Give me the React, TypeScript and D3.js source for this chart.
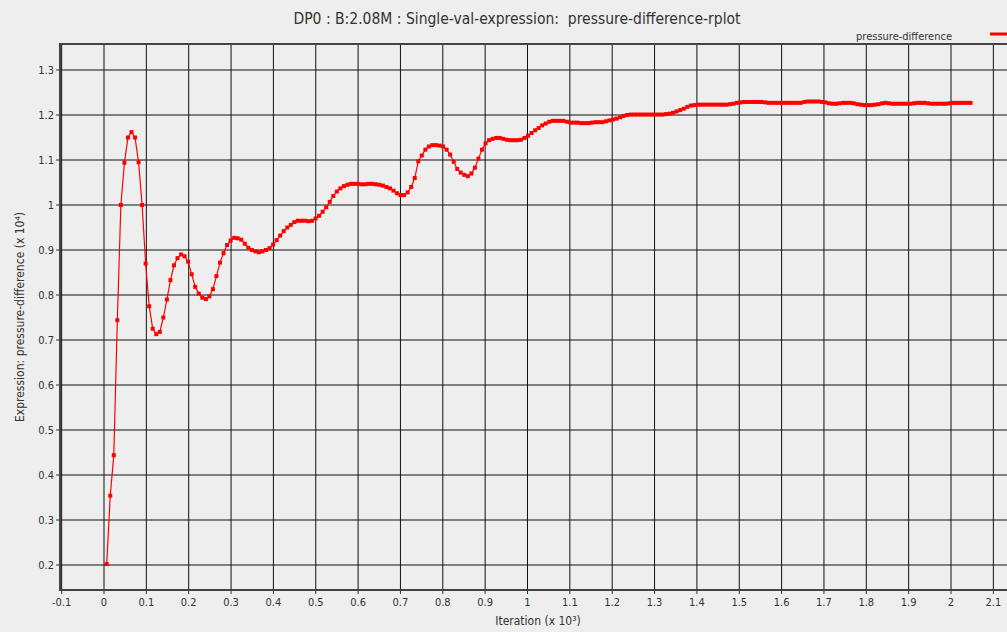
import React, { useEffect, useRef } from "react";
import * as d3 from "d3";

const title = "DP0 : B:2.08M : Single-val-expression:  pressure-difference-rplot";
const seriesName = "pressure-difference";
const xLabel = "Iteration (x 10³)";
const yLabel = "Expression: pressure-difference (x 10⁴)";

// iterations (x 10^3) of the first sample and spacing between samples
const firstIter = 0.0064;
const iterStep = 0.00836;

// pressure-difference (x 10^4), one value per sample
const pressureDiff = [
  0.202, 0.354, 0.444, 0.744, 1.0, 1.094, 1.15, 1.162, 1.15, 1.095,
  1.0, 0.87, 0.775, 0.725, 0.713, 0.718, 0.75, 0.79, 0.833, 0.866,
  0.882, 0.89, 0.886, 0.874, 0.846, 0.818, 0.803, 0.794, 0.791, 0.797,
  0.813, 0.842, 0.872, 0.893, 0.911, 0.921, 0.927, 0.926, 0.923, 0.914,
  0.905, 0.9, 0.897, 0.895, 0.897, 0.9, 0.904, 0.912, 0.922, 0.932,
  0.942, 0.95, 0.956, 0.962, 0.965, 0.965, 0.965, 0.964, 0.965, 0.97,
  0.976, 0.985, 0.995, 1.007, 1.02, 1.03, 1.037, 1.042, 1.045, 1.047,
  1.047, 1.047, 1.046, 1.046, 1.047, 1.047, 1.046, 1.045, 1.043, 1.04,
  1.037, 1.032, 1.026, 1.022, 1.022, 1.028, 1.04, 1.06, 1.097, 1.11,
  1.123, 1.13, 1.133, 1.133, 1.132, 1.13, 1.123, 1.112, 1.096, 1.08,
  1.072, 1.067, 1.064, 1.07, 1.083, 1.103, 1.123, 1.137, 1.144, 1.147,
  1.149, 1.149, 1.147, 1.145, 1.144, 1.144, 1.144, 1.145, 1.149, 1.154,
  1.16, 1.166, 1.171, 1.177, 1.181, 1.185, 1.187, 1.187, 1.187, 1.187,
  1.185, 1.183, 1.183, 1.183, 1.182, 1.182, 1.182, 1.183, 1.184, 1.184,
  1.184, 1.186, 1.188, 1.19, 1.192, 1.195, 1.198, 1.2, 1.201, 1.201,
  1.201, 1.201, 1.201, 1.201, 1.201, 1.201, 1.201, 1.201, 1.202, 1.203,
  1.205, 1.208, 1.211, 1.214, 1.218, 1.221, 1.222, 1.223, 1.223, 1.223,
  1.223, 1.223, 1.223, 1.223, 1.223, 1.223, 1.224, 1.225, 1.227, 1.228,
  1.229, 1.229, 1.229, 1.229, 1.229, 1.229, 1.228, 1.227, 1.227, 1.227,
  1.227, 1.227, 1.227, 1.227, 1.227, 1.227, 1.227, 1.229, 1.23, 1.23,
  1.23, 1.23, 1.229, 1.228, 1.226, 1.225, 1.225, 1.226, 1.227, 1.227,
  1.227, 1.226, 1.224, 1.223, 1.222, 1.222, 1.222, 1.223, 1.224, 1.226,
  1.227, 1.226, 1.225, 1.225, 1.225, 1.225, 1.225, 1.225, 1.226, 1.227,
  1.227, 1.227, 1.226, 1.225, 1.225, 1.225, 1.225, 1.225, 1.226, 1.227,
  1.227, 1.227, 1.227, 1.227, 1.227,
];

const xTicks = [-0.1, 0, 0.1, 0.2, 0.3, 0.4, 0.5, 0.6, 0.7, 0.8, 0.9, 1, 1.1, 1.2, 1.3, 1.4, 1.5, 1.6, 1.7, 1.8, 1.9, 2, 2.1];
const yTicks = [0.2, 0.3, 0.4, 0.5, 0.6, 0.7, 0.8, 0.9, 1, 1.1, 1.2, 1.3];

const font = "'DejaVu Sans Condensed', 'DejaVu Sans', sans-serif";

const App = () => {
  const ref = useRef(null);

  useEffect(() => {
    const width = 1007;
    const height = 632;
    const plot = { left: 60, top: 44, right: 1015, bottom: 590 };

    const x = d3.scaleLinear().domain([0, 2]).range([104, 951]);
    const y = d3.scaleLinear().domain([0.2, 1.3]).range([565, 70]);

    const points = pressureDiff.map((v, i) => ({ it: firstIter + i * iterStep, v }));

    const svg = d3.select(ref.current).attr("width", width).attr("height", height);
    svg.selectAll("*").remove();

    svg.append("rect").attr("width", width).attr("height", height).attr("fill", "#eeeeee");

    svg.append("text")
      .attr("x", 517).attr("y", 24)
      .attr("text-anchor", "middle")
      .attr("font-family", font).attr("font-size", 15.5)
      .attr("fill", "#333")
      .style("white-space", "pre")
      .text(title);

    // legend
    svg.append("text")
      .attr("x", 952).attr("y", 40)
      .attr("text-anchor", "end")
      .attr("font-family", font).attr("font-size", 11)
      .attr("fill", "#333")
      .text(seriesName);
    svg.append("line")
      .attr("x1", 990).attr("x2", 1010).attr("y1", 34).attr("y2", 34)
      .attr("stroke", "red").attr("stroke-width", 3);

    const g = svg.append("g");

    // grid
    g.selectAll("line.vgrid")
      .data(xTicks)
      .join("line")
      .attr("class", "vgrid")
      .attr("x1", (d) => x(d)).attr("x2", (d) => x(d))
      .attr("y1", plot.top).attr("y2", plot.bottom)
      .attr("stroke", "#111").attr("stroke-width", 1);
    g.selectAll("line.hgrid")
      .data(yTicks)
      .join("line")
      .attr("class", "hgrid")
      .attr("x1", plot.left).attr("x2", plot.right)
      .attr("y1", (d) => y(d)).attr("y2", (d) => y(d))
      .attr("stroke", "#111").attr("stroke-width", 1);

    // frame
    g.append("rect")
      .attr("x", plot.left).attr("y", plot.top)
      .attr("width", plot.right - plot.left).attr("height", plot.bottom - plot.top)
      .attr("fill", "none").attr("stroke", "#444").attr("stroke-width", 2);

    // tick marks + labels (plain hyphen for negatives, like the original)
    const fmt = (d) => String(d);
    g.selectAll("line.xtick")
      .data(xTicks)
      .join("line")
      .attr("class", "xtick")
      .attr("x1", (d) => x(d)).attr("x2", (d) => x(d))
      .attr("y1", plot.bottom).attr("y2", plot.bottom + 4)
      .attr("stroke", "#333");
    g.selectAll("text.xtick")
      .data(xTicks)
      .join("text")
      .attr("class", "xtick")
      .attr("x", (d) => x(d)).attr("y", 606)
      .attr("text-anchor", "middle")
      .attr("font-family", font).attr("font-size", 11)
      .attr("fill", "#333")
      .text(fmt);

    g.selectAll("line.ytick")
      .data(yTicks)
      .join("line")
      .attr("class", "ytick")
      .attr("x1", plot.left - 4).attr("x2", plot.left)
      .attr("y1", (d) => y(d)).attr("y2", (d) => y(d))
      .attr("stroke", "#333");
    g.selectAll("text.ytick")
      .data(yTicks)
      .join("text")
      .attr("class", "ytick")
      .attr("x", 54).attr("y", (d) => y(d) + 4)
      .attr("text-anchor", "end")
      .attr("font-family", font).attr("font-size", 11)
      .attr("fill", "#333")
      .text(fmt);

    svg.append("text")
      .attr("x", 538).attr("y", 625)
      .attr("text-anchor", "middle")
      .attr("font-family", font).attr("font-size", 12)
      .attr("fill", "#333")
      .text(xLabel);
    svg.append("text")
      .attr("transform", "translate(24,317) rotate(-90)")
      .attr("text-anchor", "middle")
      .attr("font-family", font).attr("font-size", 12)
      .attr("fill", "#333")
      .text(yLabel);

    // series
    const line = d3.line().x((d) => x(d.it)).y((d) => y(d.v));
    g.append("path")
      .datum(points)
      .attr("d", line)
      .attr("fill", "none")
      .attr("stroke", "red")
      .attr("stroke-width", 1.2);
    g.selectAll("rect.pt")
      .data(points)
      .join("rect")
      .attr("class", "pt")
      .attr("x", (d) => x(d.it) - 2).attr("y", (d) => y(d.v) - 2)
      .attr("width", 4).attr("height", 4)
      .attr("fill", "red");
  });

  return (
    <svg ref={ref} style={{ position: "absolute", left: 0, top: 0 }}></svg>
  );
};

export default App;
